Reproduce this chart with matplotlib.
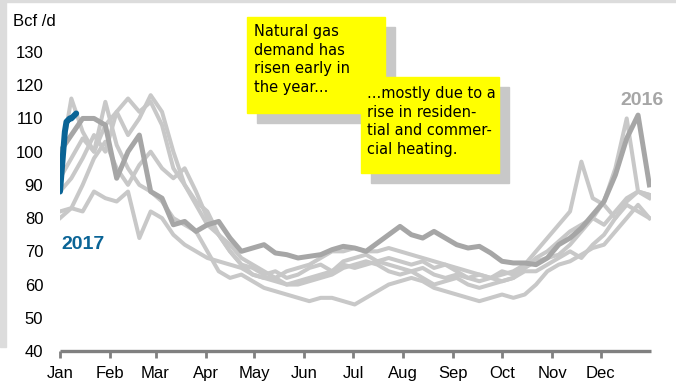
import numpy as np
import matplotlib.pyplot as plt
from matplotlib.patches import Rectangle

# Demanda semanal de gas natural (Bcf/d), un valor cada 7 dias desde el 1 de enero
dias = np.arange(0, 365, 7)

anio_2011 = [92, 98, 104, 100, 115, 102, 95, 90, 88, 85, 80, 78, 76, 70, 64, 62, 63, 61,
             59, 58, 57, 56, 55, 56, 56, 55, 54, 56, 58, 60, 61, 62, 61, 59, 58, 57, 56,
             55, 56, 57, 56, 57, 60, 64, 66, 67, 69, 71, 72, 76, 80, 84, 80]
anio_2012 = [80, 83, 82, 88, 86, 85, 88, 74, 82, 80, 75, 72, 70, 68, 67, 66, 65, 63,
             62, 62, 64, 65, 66, 68, 70, 70, 71, 70, 70, 71, 70, 69, 68, 67, 66, 65, 64,
             63, 62, 61, 62, 64, 64, 66, 68, 70, 68, 72, 75, 80, 84, 82, 80]
anio_2013 = [82, 83, 90, 98, 103, 95, 90, 96, 100, 95, 92, 95, 88, 80, 75, 70, 66, 63,
             62, 61, 60, 60, 61, 62, 63, 65, 66, 67, 66, 64, 63, 64, 62, 60, 61, 62, 60,
             59, 60, 61, 62, 65, 68, 70, 73, 76, 78, 80, 85, 95, 110, 88, 87]
anio_2014 = [96, 116, 106, 100, 108, 112, 105, 110, 117, 112, 100, 90, 85, 82, 75, 72, 68, 66,
             64, 62, 60, 61, 62, 63, 64, 66, 65, 66, 67, 66, 65, 64, 65, 63, 62, 63, 62,
             61, 62, 63, 64, 66, 70, 74, 78, 82, 97, 86, 84, 80, 85, 88, 86]
anio_2015 = [88, 92, 98, 105, 100, 112, 116, 112, 115, 108, 95, 90, 84, 78, 75, 70, 66, 65,
             63, 64, 62, 63, 65, 66, 64, 67, 68, 69, 67, 68, 67, 66, 67, 65, 66, 64, 62,
             63, 62, 64, 63, 65, 67, 68, 69, 72, 76, 80, 78, 82, 86, 88, 87]
anio_2016 = [100, 105, 110, 110, 108, 92, 100, 105, 88, 86, 78, 79, 76, 78, 79, 74, 70, 71,
             72, 69.5, 69, 68, 68.5, 69, 70.5, 71.5, 71, 70, 72.5, 75, 77.5, 75, 74, 76, 74, 72, 71,
             71.5, 69.5, 67, 66.5, 66.5, 66, 68, 72, 74, 77, 81, 85, 93, 104, 111, 90]

# 2017: datos diarios de los primeros dias de enero
dias_2017 = np.arange(0, 11)
anio_2017 = [88, 94, 100, 106, 109, 109.5, 110, 110, 110.5, 111, 111.5]

inicio_mes = [0, 31, 59, 90, 120, 151, 181, 212, 243, 273, 304, 334]
meses = ['Jan', 'Feb', 'Mar', 'Apr', 'May', 'Jun', 'Jul', 'Aug', 'Sep', 'Oct', 'Nov', 'Dec']

plt.rcParams['font.family'] = ['Liberation Sans', 'DejaVu Sans']

fig = plt.figure(figsize=(6.76, 3.84), dpi=100)
fig.patches.append(Rectangle((0, 1 - 347 / 384), 6 / 676, 347 / 384, transform=fig.transFigure,
                             color='#dcdcdc', zorder=0))
fig.patches.append(Rectangle((0, 1 - 2 / 384), 1, 2 / 384, transform=fig.transFigure,
                             color='#dcdcdc', zorder=0))

ax = fig.add_axes([60 / 676, 1 - 351 / 384, 591 / 676, 299 / 384])

gris = '#c8c8c8'
for serie in [anio_2011, anio_2012, anio_2013, anio_2014, anio_2015]:
    ax.plot(dias, serie, color=gris, lw=2.9, solid_joinstyle='round', zorder=2)
ax.plot(dias, anio_2016, color='#a6a6a6', lw=3.6, solid_joinstyle='round', zorder=3)
ax.plot(dias_2017, anio_2017, color='#0a6496', lw=4.3, solid_capstyle='round',
        solid_joinstyle='round', zorder=4)

ax.set_xlim(0, 365)
ax.set_ylim(40, 130)
ax.set_yticks(range(40, 131, 10))
ax.set_xticks(inicio_mes)
ax.set_xticklabels(meses)
ax.tick_params(axis='y', length=0, pad=12, labelsize=12)
ax.tick_params(axis='x', length=5, width=2, color='#808080', pad=6, labelsize=12)
for lado in ['top', 'right', 'left']:
    ax.spines[lado].set_visible(False)
ax.spines['bottom'].set_color('#808080')
ax.spines['bottom'].set_linewidth(2.4)
ax.spines['bottom'].set_capstyle('butt')

fig.text(13 / 676, 1 - 21 / 384, 'Bcf /d', fontsize=12, va='center', ha='left')
ax.text(1, 72, '2017', color='#0a6496', fontsize=14, fontweight='bold', va='center', ha='left')
ax.text(373, 115.5, '2016', color='#a6a6a6', fontsize=14, fontweight='bold', va='center',
        ha='right', clip_on=False)


def nota(x0, y0, x1, y1, texto, tx, ty):
    # caja amarilla con sombra gris, coordenadas en pixeles de la figura
    w, h = (x1 - x0) / 676, (y1 - y0) / 384
    fig.patches.append(Rectangle(((x0 + 10) / 676, 1 - (y1 + 10) / 384), w, h,
                                 transform=fig.transFigure, color='#c8c8c8', zorder=5))
    fig.patches.append(Rectangle((x0 / 676, 1 - y1 / 384), w, h,
                                 transform=fig.transFigure, color='#ffff00', zorder=6))
    fig.text(tx / 676, 1 - ty / 384, texto, fontsize=10.5, family='DejaVu Sans',
             va='top', ha='left', linespacing=1.3, zorder=7)


nota(247, 17, 385, 113, 'Natural gas\ndemand has\nrisen early in\nthe year...', 254, 24)
nota(361, 77, 499, 173, '...mostly due to a\nrise in residen-\ntial and commer-\ncial heating.', 367, 86)

fig.savefig('out.png', dpi=100)
